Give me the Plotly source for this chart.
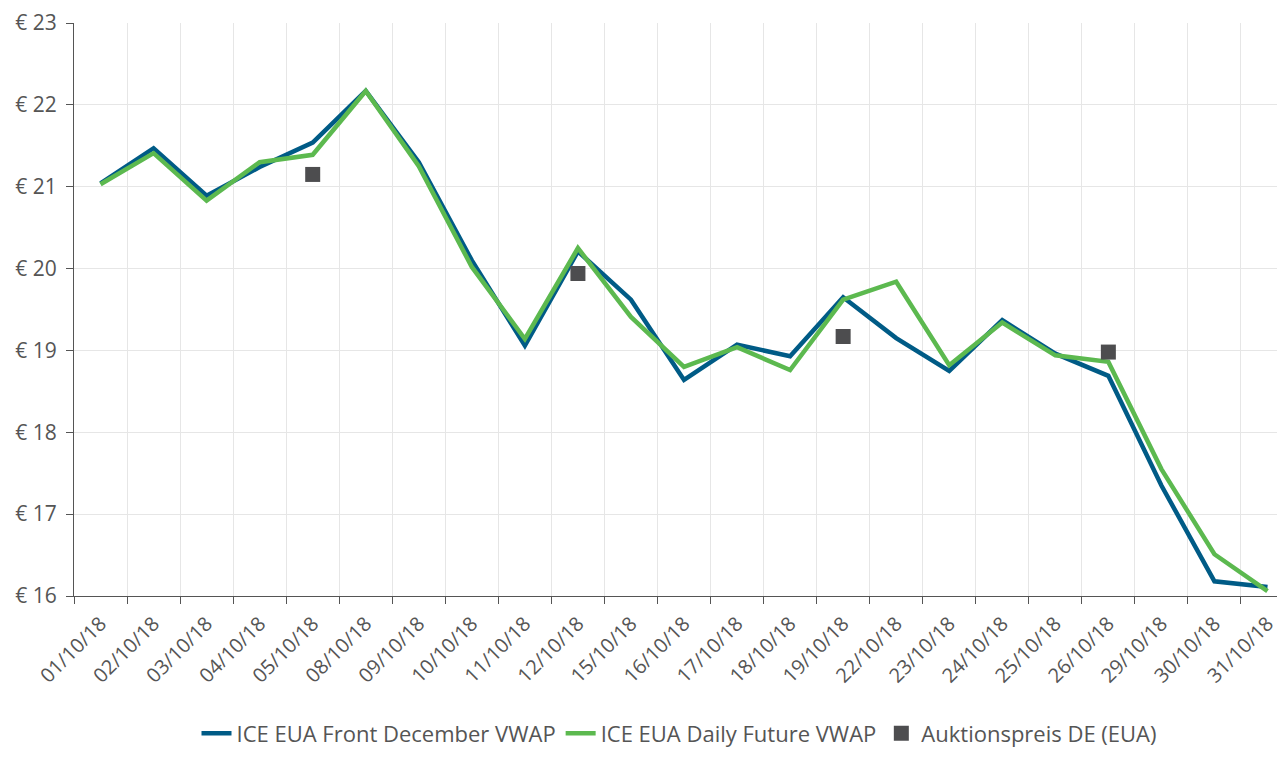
import plotly.graph_objects as go

dates = ["01/10/18", "02/10/18", "03/10/18", "04/10/18", "05/10/18", "08/10/18",
         "09/10/18", "10/10/18", "11/10/18", "12/10/18", "15/10/18", "16/10/18",
         "17/10/18", "18/10/18", "19/10/18", "22/10/18", "23/10/18", "24/10/18",
         "25/10/18", "26/10/18", "29/10/18", "30/10/18", "31/10/18"]

front_december = [21.04, 21.47, 20.89, 21.24, 21.54, 22.17, 21.30, 20.10, 19.06, 20.21,
                  19.62, 18.64, 19.07, 18.93, 19.65, 19.15, 18.75, 19.37, 18.96, 18.69,
                  17.35, 16.18, 16.11]

daily_future = [21.03, 21.41, 20.83, 21.30, 21.39, 22.17, 21.25, 20.02, 19.14, 20.25,
                19.41, 18.80, 19.04, 18.76, 19.62, 19.84, 18.82, 19.34, 18.94, 18.86,
                17.55, 16.51, 16.06]

auction_dates = ["05/10/18", "12/10/18", "19/10/18", "26/10/18"]
auction_price = [21.15, 19.94, 19.17, 18.98]

y_ticks = [16, 17, 18, 19, 20, 21, 22, 23]
y_labels = ["€ " + str(v) for v in y_ticks]

FONT = "Open Sans"
TXT = "#555555"

fig = go.Figure()
fig.add_trace(go.Scatter(x=dates, y=front_december, mode="lines",
                         name="ICE EUA Front December VWAP",
                         line=dict(color="#005b86", width=4.5)))
fig.add_trace(go.Scatter(x=dates, y=daily_future, mode="lines",
                         name="ICE EUA Daily Future VWAP",
                         line=dict(color="#5cb94f", width=4.5)))
fig.add_trace(go.Scatter(x=auction_dates, y=auction_price, mode="markers",
                         name="Auktionspreis DE (EUA)",
                         marker=dict(symbol="square", size=15, color="#4d4d4f")))

fig.update_layout(
    width=1277, height=750,
    margin=dict(l=66, r=0, t=15, b=162, autoexpand=False),
    paper_bgcolor="white", plot_bgcolor="white",
    font=dict(family=FONT, size=20, color=TXT),
    showlegend=True,
    legend=dict(orientation="h", x=0.5, xanchor="center", y=-0.24, yanchor="middle",
                font=dict(family=FONT, size=22, color=TXT), itemwidth=30),
)
fig.update_xaxes(type="category", categoryorder="array", categoryarray=dates,
                 range=[-0.5, 22.33], tickson="boundaries", automargin=False,
                 showgrid=True, gridcolor="#e6e6e6", gridwidth=1,
                 showline=True, linecolor="#555555", linewidth=1,
                 ticks="outside", ticklen=7, tickcolor="#555555",
                 tickangle=-45, tickfont=dict(family=FONT, size=20, color=TXT),
                 ticklabelstandoff=7, zeroline=False)
fig.update_yaxes(range=[16, 23], tickvals=y_ticks, ticktext=y_labels, automargin=False,
                 showgrid=True, gridcolor="#e6e6e6", gridwidth=1,
                 showline=True, linecolor="#555555", linewidth=1,
                 ticks="outside", ticklen=7, tickcolor="#555555",
                 tickfont=dict(family=FONT, size=21, color=TXT),
                 ticklabelstandoff=5, zeroline=False)

fig.write_html("out.html")
